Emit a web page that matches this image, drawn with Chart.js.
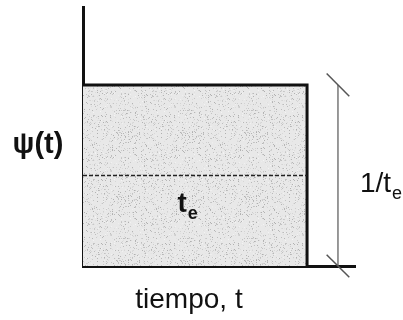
<!DOCTYPE html>
<html>
<head>
<meta charset="utf-8">
<script src="https://cdn.jsdelivr.net/npm/chart.js@4.4.1/dist/chart.umd.min.js"></script>
<style>
  html, body { margin: 0; padding: 0; background: #fff; }
  #wrap { width: 403px; height: 320px; position: relative; }
</style>
</head>
<body>
<div id="wrap"><canvas id="chart"></canvas></div>
<script>
// distribución de tiempos de residencia: pulso rectangular de altura 1/te
const tPulso = [0, 1, 1];          // t/te
const psiPulso = [1, 1, 0];        // psi(t)*te
const tMedia = [0, 1];
const psiMedia = [0.5, 0.5];
const tCota = [1.138, 1.138];      // cota de la altura 1/te
const psiCota = [0, 1];
const tMax = 1.214;
const psiMax = 1.43;

const toPoints = (xs, ys) => xs.map((x, i) => ({ x: x, y: ys[i] }));

// textura punteada gris del área
function makeStipple() {
  const c = document.createElement("canvas");
  c.width = 64;
  c.height = 64;
  const g = c.getContext("2d");
  g.fillStyle = "#e8e8e8";
  g.fillRect(0, 0, 64, 64);
  let s = 12345;
  const next = () => (s = (s * 1103515245 + 12345) % 2147483648) / 2147483648;
  for (let i = 0; i < 800; i++) {
    const v = 175 + Math.floor(next() * 70);
    g.fillStyle = `rgb(${v},${v},${v})`;
    g.fillRect(Math.floor(next() * 64), Math.floor(next() * 64), 1, 1);
  }
  return g.createPattern(c, "repeat");
}

// etiquetas con subíndice
function drawSub(ctx, x, y, main, sub, font, subFont, align) {
  ctx.font = font;
  const w1 = ctx.measureText(main).width;
  ctx.font = subFont;
  const w2 = ctx.measureText(sub).width;
  let x0 = align === "center" ? x - (w1 + w2) / 2 : x;
  ctx.textAlign = "left";
  ctx.textBaseline = "alphabetic";
  ctx.font = font;
  ctx.fillText(main, x0, y);
  ctx.font = subFont;
  ctx.fillText(sub, x0 + w1 + 1, y + 7);
}

const labelsPlugin = {
  id: "etiquetas",
  afterDraw(chart) {
    const { ctx, chartArea, scales } = chart;
    const xs = scales.x, ys = scales.y;
    ctx.save();
    ctx.fillStyle = "#111";
    ctx.font = "bold 29px 'Liberation Sans', Arial, sans-serif";
    ctx.textAlign = "center";
    ctx.textBaseline = "middle";
    ctx.fillText("ψ(t)", chartArea.left - 45, ys.getPixelForValue(0.67));

    drawSub(ctx, xs.getPixelForValue(0.465), ys.getPixelForValue(0.3), "t", "e",
      "bold 28px 'Liberation Sans', Arial, sans-serif",
      "bold 18px 'Liberation Sans', Arial, sans-serif", "center");

    drawSub(ctx, xs.getPixelForValue(tCota[0]) + 22, ys.getPixelForValue(0.41), "1/t", "e",
      "28px 'Liberation Sans', Arial, sans-serif",
      "18px 'Liberation Sans', Arial, sans-serif", "left");

    ctx.font = "28px 'Liberation Sans', Arial, sans-serif";
    ctx.textAlign = "center";
    ctx.textBaseline = "alphabetic";
    ctx.fillText("tiempo, t", xs.getPixelForValue(0.473), chartArea.bottom + 42);
    ctx.restore();
  }
};

new Chart(document.getElementById("chart"), {
  type: "scatter",
  data: {
    datasets: [
      {
        data: toPoints(tPulso, psiPulso),
        showLine: true,
        fill: "origin",
        backgroundColor: makeStipple(),
        borderColor: "#111",
        borderWidth: 3,
        pointRadius: 0,
        clip: false,
        order: 3
      },
      {
        data: toPoints(tMedia, psiMedia),
        showLine: true,
        borderColor: "#222",
        borderWidth: 1.5,
        borderDash: [4, 2],
        pointRadius: 0,
        clip: false,
        order: 1
      },
      {
        data: toPoints(tCota, psiCota),
        showLine: true,
        borderColor: "#555",
        borderWidth: 1.2,
        pointStyle: "line",
        rotation: 45,
        pointRadius: 16,
        pointBorderColor: "#555",
        pointBorderWidth: 1.5,
        clip: false,
        order: 2
      }
    ]
  },
  options: {
    responsive: true,
    maintainAspectRatio: false,
    animation: false,
    layout: { autoPadding: false, padding: { left: 83, top: 7, right: 48, bottom: 54 } },
    plugins: { legend: { display: false }, tooltip: { enabled: false } },
    scales: {
      x: {
        type: "linear",
        min: 0,
        max: tMax,
        ticks: { display: false },
        grid: { display: false, drawTicks: false },
        border: { display: true, color: "#111", width: 3 }
      },
      y: {
        type: "linear",
        min: 0,
        max: psiMax,
        ticks: { display: false },
        grid: { display: false, drawTicks: false },
        border: { display: true, color: "#111", width: 3 }
      }
    }
  },
  plugins: [labelsPlugin]
});
</script>
</body>
</html>
